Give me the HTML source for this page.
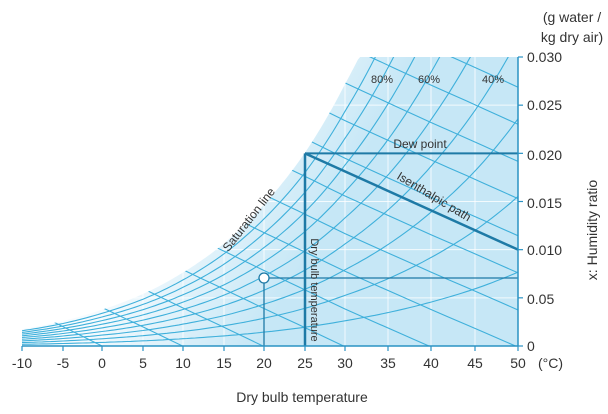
<!DOCTYPE html>
<html><head><meta charset="utf-8"><style>
html,body{margin:0;padding:0;background:#fff;width:608px;height:414px;overflow:hidden}
svg{display:block;position:absolute;left:0;top:0;font-family:"Liberation Sans",sans-serif}
script{display:none}
</style></head><body>
<svg id="s" width="608" height="414" xmlns="http://www.w3.org/2000/svg">
<defs>
<linearGradient id="g" x1="200" y1="120" x2="340" y2="200" gradientUnits="userSpaceOnUse">
<stop offset="0" stop-color="#f6fbfe"/><stop offset="1" stop-color="#c6e7f6"/>
</linearGradient>
<clipPath id="cp"><path id="cpath" d=""/></clipPath>
</defs>
<g id="chart"></g>
<g fill="#333" font-size="14">
<text x="572" y="22" text-anchor="middle">(g water /</text>
<text x="572" y="42" text-anchor="middle">kg dry air)</text>
<text x="527" y="62">0.030</text>
<text x="527" y="110">0.025</text>
<text x="527" y="160">0.020</text>
<text x="527" y="208">0.015</text>
<text x="527" y="255">0.010</text>
<text x="527" y="304">0.05</text>
<text x="527" y="351">0</text>
<text x="597" y="230" text-anchor="middle" transform="rotate(-90 597 230)">x: Humidity ratio</text>
<text x="538" y="368">(°C)</text>
<text x="302" y="402" text-anchor="middle">Dry bulb temperature</text>
</g>
<g fill="#333" font-size="11">
<text x="382" y="83" text-anchor="middle">80%</text>
<text x="429" y="83" text-anchor="middle">60%</text>
<text x="493" y="83" text-anchor="middle">40%</text>
</g>
<g fill="#333" font-size="12">
<text x="420" y="148" text-anchor="middle">Dew point</text>
<text x="432" y="200" text-anchor="middle" transform="rotate(31 432 200)">Isenthalpic path</text>
<text x="252" y="222" text-anchor="middle" transform="rotate(-52 252 222)">Saturation line</text>
<text x="311" y="290" text-anchor="middle" font-size="11" transform="rotate(90 311 290)">Dry bulb temperature</text>
</g>
</svg>
<script>
var xs=[[-10,22],[-5,63],[0,102],[5,143],[10,183],[15,224],[20,264],[25,305],[30,345],[35,388],[40,431],[45,475],[50,518]];
function X(T){for(var i=0;i<xs.length-1;i++){if(T<=xs[i+1][0]||i==xs.length-2){var a=xs[i],b=xs[i+1];return a[1]+(T-a[0])*(b[1]-a[1])/(b[0]-a[0]);}}}
function Y(w){return 346-w/0.030*289;}
function ps(T){return 0.6108*Math.exp(17.27*T/(T+237.3));}
function wr(T,rh){var p=rh*ps(T);return 0.622*p/(101.325-p);}
var NS="http://www.w3.org/2000/svg";
var g=document.getElementById("chart");
function el(n,a){var e=document.createElementNS(NS,n);for(var k in a)e.setAttribute(k,a[k]);return e;}
var d="M22,346 ";var T;
for(T=-10;T<=50;T+=0.25){var w=wr(T,1);if(w>0.030){d+="L"+X(T).toFixed(1)+","+Y(0.030)+" ";break;}d+="L"+X(T).toFixed(1)+","+Y(w).toFixed(1)+" ";}
d+="L518,57 L518,346 Z";
document.getElementById("cpath").setAttribute("d",d);
var cg=el("g",{"clip-path":"url(#cp)"});g.appendChild(cg);
cg.appendChild(el("rect",{x:0,y:0,width:608,height:414,fill:"url(#g)"}));
for(var t=-5;t<50;t+=5)cg.appendChild(el("line",{x1:X(t),y1:40,x2:X(t),y2:346,stroke:"#fff","stroke-width":1,opacity:0.8}));
for(var k=1;k<6;k++)cg.appendChild(el("line",{x1:0,y1:Y(k*0.005),x2:518,y2:Y(k*0.005),stroke:"#fff","stroke-width":1,opacity:0.8}));
for(var r=1;r<=9;r++){var p="";for(T=-10;T<=50.01;T+=0.5){p+=(p?"L":"M")+X(T).toFixed(1)+","+Y(wr(T,r/10)).toFixed(1);}
cg.appendChild(el("path",{d:p,fill:"none",stroke:"#3fb0db","stroke-width":1.1}));}
for(var h=-10;h<=140;h+=10){var p="";for(T=-10;T<=50.01;T+=2){var w=(h-1.006*T)/(2501+1.86*T);p+=(p?"L":"M")+X(T).toFixed(1)+","+Y(w).toFixed(1);}
cg.appendChild(el("path",{d:p,fill:"none",stroke:"#3fb0db","stroke-width":1.1}));}
var dk="#1e7aa6";
g.appendChild(el("line",{x1:305,y1:Y(0.020),x2:518,y2:Y(0.020),stroke:dk,"stroke-width":2}));
g.appendChild(el("line",{x1:305,y1:Y(0.020),x2:305,y2:346,stroke:dk,"stroke-width":2.5}));
g.appendChild(el("line",{x1:305,y1:Y(0.020),x2:518,y2:Y(0.010),stroke:dk,"stroke-width":2.5}));
g.appendChild(el("line",{x1:264,y1:278,x2:518,y2:278,stroke:dk,"stroke-width":1.3}));
g.appendChild(el("line",{x1:264,y1:278,x2:264,y2:346,stroke:dk,"stroke-width":1.3}));
g.appendChild(el("circle",{cx:264,cy:278,r:5,fill:"#fff",stroke:dk,"stroke-width":1.3}));
var ax="#2a93c4";
g.appendChild(el("line",{x1:22,y1:346,x2:518,y2:346,stroke:ax,"stroke-width":1.5}));
g.appendChild(el("line",{x1:518,y1:57,x2:518,y2:346,stroke:ax,"stroke-width":1.5}));
for(var i=0;i<xs.length;i++){g.appendChild(el("line",{x1:xs[i][1],y1:346,x2:xs[i][1],y2:351,stroke:ax,"stroke-width":1.2}));
var tx=el("text",{x:xs[i][1],y:368,"text-anchor":"middle",fill:"#333","font-size":14});tx.textContent=xs[i][0];g.appendChild(tx);}
for(var k=0;k<=6;k++)g.appendChild(el("line",{x1:518,y1:Y(k*0.005),x2:523,y2:Y(k*0.005),stroke:ax,"stroke-width":1.2}));
</script>
</body></html>
